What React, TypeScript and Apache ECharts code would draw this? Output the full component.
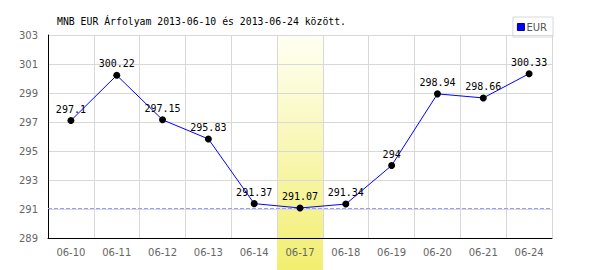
import React, { useEffect, useRef } from "react";
import * as echarts from "echarts";

const categories = ["06-10", "06-11", "06-12", "06-13", "06-14", "06-17", "06-18", "06-19", "06-20", "06-21", "06-24"];
const eurValues = [297.1, 300.22, 297.15, 295.83, 291.37, 291.07, 291.34, 294, 298.94, 298.66, 300.33];
const highlightCategory = "06-17";
const titleText = "MNB EUR Árfolyam 2013-06-10 és 2013-06-24 között.";
const seriesName = "EUR";

export default function App() {
  const ref = useRef<HTMLDivElement>(null);
  useEffect(() => {
    if (!ref.current) return;
    const chart = echarts.init(ref.current, undefined, { renderer: "svg" });
    const gridLeft = 48, gridRight = 48, gridTop = 35, gridBottom = 32;
    const option: any = {
      animation: false,
      title: {
        text: titleText,
        left: 52,
        top: 11,
        textStyle: { fontFamily: "DejaVu Sans Mono", fontSize: 9.8, fontWeight: "normal", color: "#000" },
      },
      legend: {
        data: [{ name: seriesName, icon: "rect", itemStyle: { color: "#0000ff", borderColor: "#000080", borderWidth: 1 } }],
        right: 47,
        top: 17,
        orient: "vertical",
        itemWidth: 7,
        itemHeight: 7,
        itemGap: 2,
        padding: [5, 6, 5, 4],
        borderColor: "#d8d8d8",
        borderWidth: 1,
        textStyle: { fontFamily: "DejaVu Sans", fontSize: 10, color: "#555", padding: [0, 0, 0, -3] },
      },
      grid: { left: gridLeft, right: gridRight, top: gridTop, bottom: gridBottom },
      xAxis: {
        type: "category",
        data: categories,
        boundaryGap: true,
        axisLine: { lineStyle: { color: "#000", width: 1 } },
        axisTick: { show: false },
        axisLabel: { fontFamily: "DejaVu Sans", fontSize: 10, color: "#666", margin: 9, interval: 0 },
        splitLine: { show: true, interval: 0, lineStyle: { color: "#d8d8d8", width: 1 } },
      },
      yAxis: {
        type: "value",
        min: 289,
        max: 303,
        interval: 2,
        axisLine: { show: true, lineStyle: { color: "#000", width: 1 } },
        axisTick: { show: false },
        axisLabel: { fontFamily: "DejaVu Sans", fontSize: 10, color: "#666", margin: 10 },
        splitLine: { show: true, lineStyle: { color: "#d8d8d8", width: 1 } },
      },
      series: [
        {
          name: seriesName,
          type: "line",
          data: eurValues,
          z: 5,
          lineStyle: { color: "#0000ff", width: 1 },
          itemStyle: { color: "#000" },
          symbol: "circle",
          symbolSize: 7,
          label: {
            show: true,
            position: "top",
            distance: 3,
            fontFamily: "DejaVu Sans Mono",
            fontSize: 10,
            color: "#000",
          },
          markLine: {
            silent: true,
            symbol: ["none", "none"],
            label: { show: false },
            lineStyle: { color: "#9999ff", type: "dashed", width: 1 },
            data: [{ yAxis: Math.min(...eurValues) }],
          },
        },
      ],
    };
    chart.setOption(option);
    const idx = categories.indexOf(highlightCategory);
    const cx = chart.convertToPixel({ xAxisIndex: 0 }, categories[idx]) as number;
    const width = chart.getWidth();
    const height = chart.getHeight();
    const bandW = (width - gridLeft - gridRight) / categories.length;
    chart.setOption({
      graphic: [
        {
          type: "rect",
          z: -1,
          zlevel: 0,
          silent: true,
          shape: { x: cx - bandW / 2, y: gridTop, width: bandW, height: height - gridTop },
          style: {
            fill: new echarts.graphic.LinearGradient(0, 0, 0, 1, [
              { offset: 0, color: "#fffff4" },
              { offset: 1, color: "#f2ee70" },
            ]),
          },
        },
      ],
    });
    return () => chart.dispose();
  }, []);
  return <div ref={ref} style={{ width: 600, height: 270, position: "absolute", left: 0, top: 0 }} />;
}
